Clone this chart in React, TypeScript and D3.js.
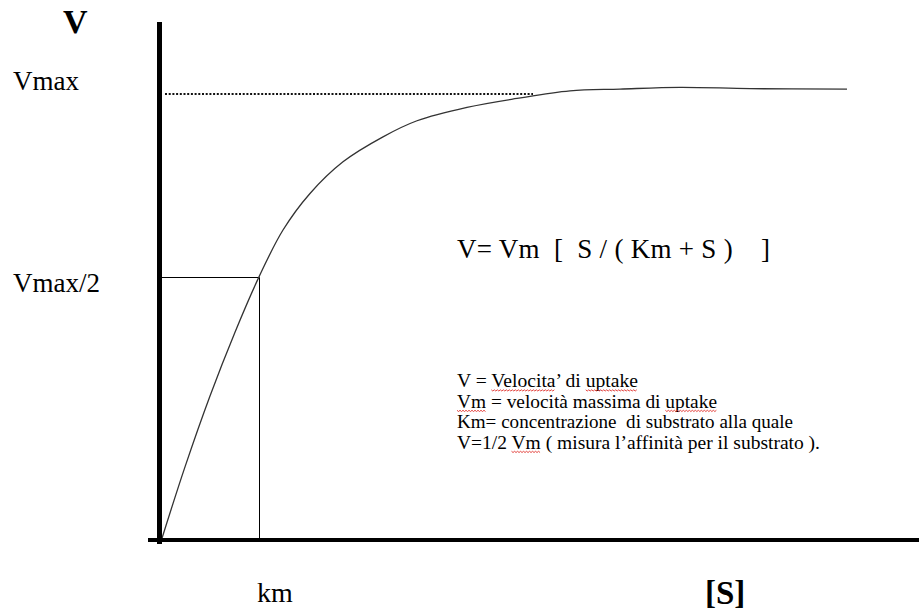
import { useEffect, useRef } from "react";
import * as d3 from "d3";

// curve: substrate (km units) vs velocity (Vmax units)
const sValues = [0.02, 0.25, 0.5, 0.75, 0.99, 1.23, 1.5, 1.83, 2.23, 2.57, 3.07, 3.57, 4.1, 4.6, 5.2, 5.9, 6.87];
const vValues = [0.004, 0.164, 0.323, 0.466, 0.59, 0.695, 0.777, 0.848, 0.904, 0.94, 0.97, 0.99, 1.007, 1.011, 1.015, 1.012, 1.011];

const vmax = 1;
const km = 1;
const halfLevel = 0.587; // where the sketch puts Vmax/2
const dottedEnd = 3.73;

const formula = "V= Vm  [  S / ( Km + S )    ]";
const notes = [
  ["V = ", "~Velocita", "’ di ", "~uptake"],
  ["~Vm", " = velocità massima di ", "~uptake"],
  ["Km= concentrazione  di substrato alla quale"],
  ["V=1/2 ", "~Vm", " ( misura l’affinità per il substrato )."],
];
const noteEnds = [638, 717, 793, 820];

const W = 919;
const H = 611;
const serif = '"Liberation Serif"';

export default function App() {
  const notesRef = useRef<SVGGElement>(null);

  const x = d3.scaleLinear().domain([0, 7.59]).range([160, 919]);
  const y = d3.scaleLinear().domain([0, 1]).range([540, 94]);

  const line = d3
    .line<number>()
    .x((_, i) => x(sValues[i]))
    .y((d) => y(d))
    .curve(d3.curveCatmullRom.alpha(0.5));

  useEffect(() => {
    const g = d3.select(notesRef.current);
    g.selectAll("*").remove();
    const baselines = [387, 407.5, 428, 448.5];
    notes.forEach((parts, li) => {
      const t = g
        .append("text")
        .attr("x", 457)
        .attr("y", baselines[li])
        .attr("textLength", noteEnds[li] - 457)
        .attr("lengthAdjust", "spacingAndGlyphs")
        .style("font-family", serif)
        .style("font-size", "18px")
        .style("white-space", "pre");
      const marked: SVGTSpanElement[] = [];
      parts.forEach((p) => {
        const wavy = p.startsWith("~");
        const span = t.append("tspan").text(wavy ? p.slice(1) : p);
        if (wavy) marked.push(span.node() as SVGTSpanElement);
      });
      marked.forEach((node) => {
        const txt = t.node() as SVGTextElement;
        const spans = Array.from(txt.querySelectorAll("tspan"));
        let start = 0;
        for (const s of spans) {
          if (s === node) break;
          start += (s.textContent || "").length;
        }
        const n = (node.textContent || "").length;
        const x0 = txt.getStartPositionOfChar(start).x;
        const x1 = txt.getEndPositionOfChar(start + n - 1).x;
        const yy = baselines[li] + 3;
        const pts: [number, number][] = [];
        for (let px = x0, k = 0; px <= x1; px += 1.5, k++) pts.push([px, yy + (k % 2 ? 1 : -0.2)]);
        g.append("path")
          .attr("d", d3.line()(pts))
          .attr("fill", "none")
          .attr("stroke", "#e0302a")
          .attr("stroke-width", 0.9);
      });
    });
  }, []);

  const label = (size: number, bold = false) => ({
    fontFamily: serif,
    fontSize: size,
    fontWeight: bold ? "bold" : "normal",
    fill: "#000",
  });

  return (
    <svg
      width={W}
      height={H}
      style={{ position: "absolute", left: 0, top: 0, background: "#fff" }}
    >
      <rect width={W} height={H} fill="#fff" />

      {/* Vmax dotted guide */}
      <line
        x1={x(0.05)}
        x2={x(dottedEnd)}
        y1={y(vmax)}
        y2={y(vmax)}
        stroke="#111"
        strokeWidth={2}
        strokeDasharray="2 1.7"
      />

      {/* Km box */}
      <line x1={x(0)} x2={Math.round(x(km)) - 0.5} y1={Math.round(y(halfLevel)) - 0.5} y2={Math.round(y(halfLevel)) - 0.5} stroke="#000" strokeWidth={1} />
      <line x1={Math.round(x(km)) - 0.5} x2={Math.round(x(km)) - 0.5} y1={Math.round(y(halfLevel)) - 0.5} y2={y(0)} stroke="#000" strokeWidth={1} />

      {/* saturation curve */}
      <path d={line(vValues) || ""} fill="none" stroke="#333" strokeWidth={1.3} />

      {/* axes */}
      <line x1={148} x2={919} y1={y(0)} y2={y(0)} stroke="#000" strokeWidth={4} />
      <line x1={159.5} x2={159.5} y1={22} y2={544} stroke="#000" strokeWidth={5} />

      {/* axis labels */}
      <text x={63} y={33} style={label(34, true)}>V</text>
      <text x={13} y={90} style={label(27)}>Vmax</text>
      <text x={13} y={292} style={label(27)}>Vmax/2</text>
      <text x={257} y={602} style={label(28)}>km</text>
      <text x={705} y={604} style={label(33, true)}>[S]</text>

      {/* equation */}
      <text x={457} y={258} textLength={313} lengthAdjust="spacing" style={{ ...label(27), whiteSpace: "pre" }}>
        {formula}
      </text>

      <g ref={notesRef} />
    </svg>
  );
}
